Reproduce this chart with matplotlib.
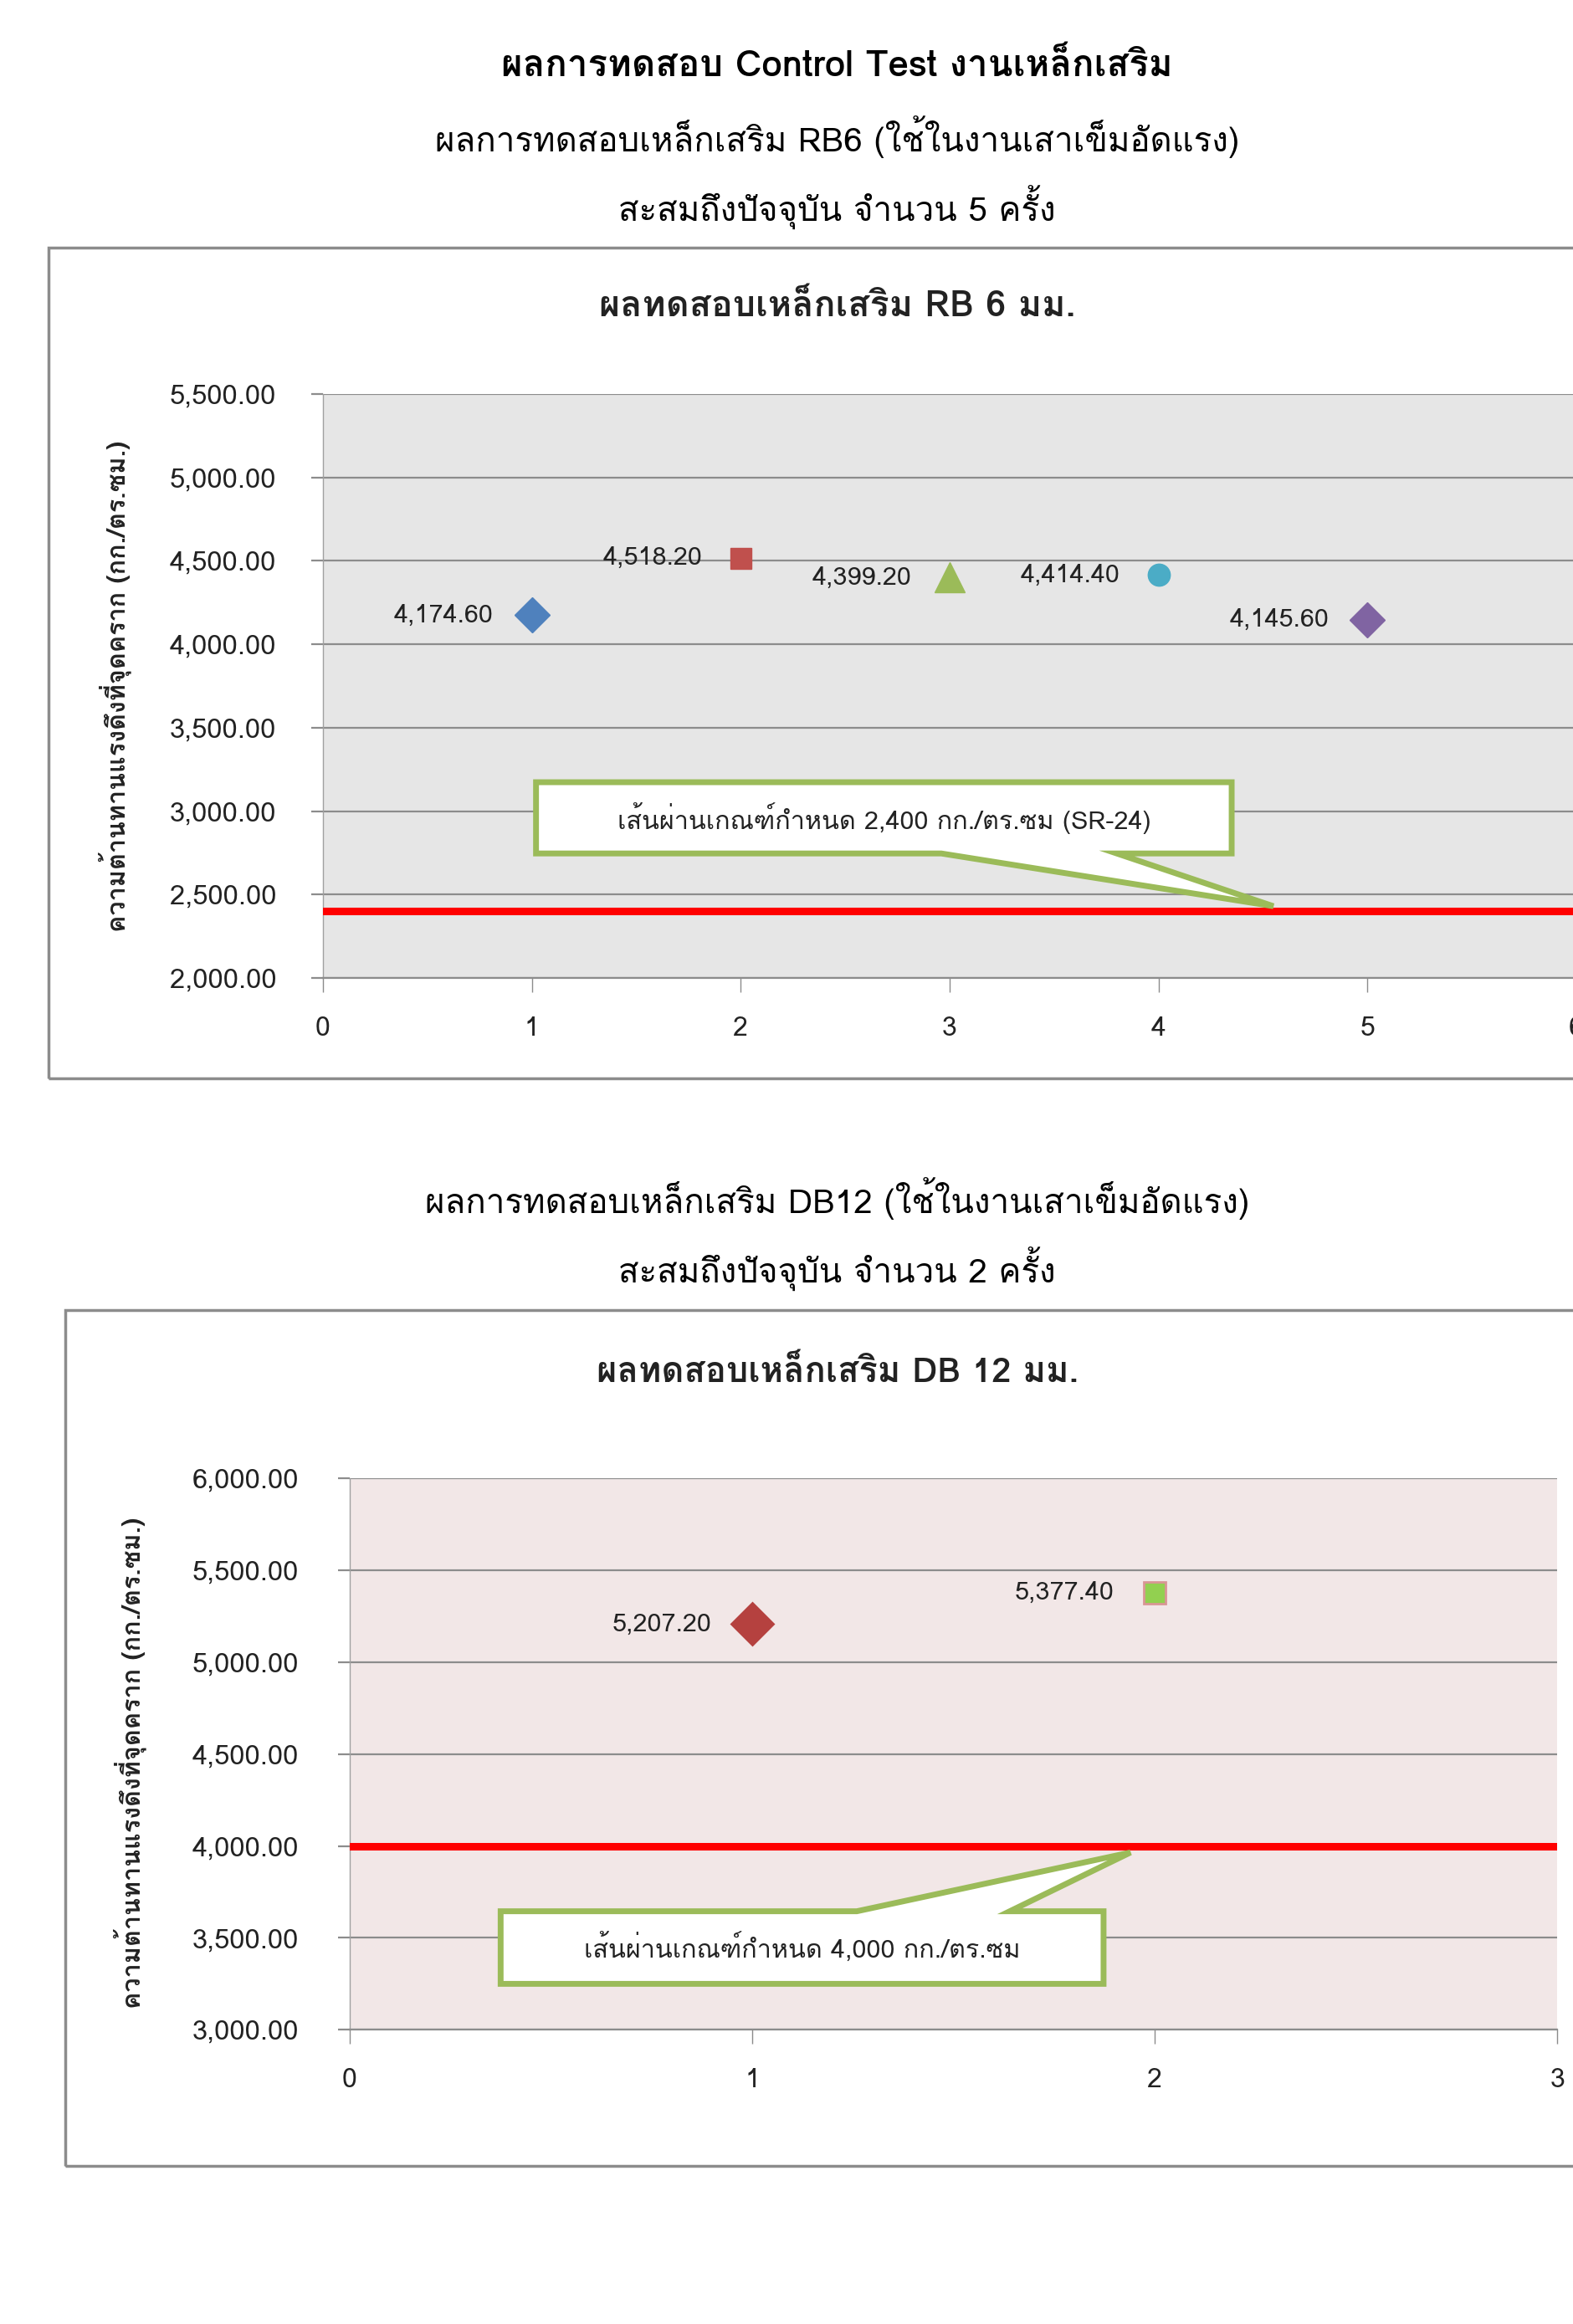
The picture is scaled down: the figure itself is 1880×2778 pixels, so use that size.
import matplotlib
matplotlib.use("Agg")
import matplotlib.pyplot as plt
from matplotlib import font_manager
from matplotlib.ft2font import FT2Font
from matplotlib.patches import Polygon, Rectangle
from matplotlib.ticker import FuncFormatter

# find a font that has Thai glyphs
thai_font = None
for f in font_manager.fontManager.ttflist:
    try:
        if 0x0E01 in FT2Font(f.fname).get_charmap():
            thai_font = f.name
            break
    except Exception:
        pass
families = [thai_font, "DejaVu Sans"] if thai_font else ["DejaVu Sans"]
plt.rcParams["font.family"] = families

# data chart 1 (RB6)
rb_x = [1, 2, 3, 4, 5]
rb_y = [4174.60, 4518.20, 4399.20, 4414.40, 4145.60]
rb_markers = ["D", "s", "^", "o", "D"]
rb_colors = ["#4F81BD", "#C0504D", "#9BBB59", "#4BACC6", "#8064A2"]
rb_limit = 2400
rb_yticks = [2000, 2500, 3000, 3500, 4000, 4500, 5000, 5500]
rb_xticks = [0, 1, 2, 3, 4, 5, 6]

# data chart 2 (DB12)
db_x = [1, 2]
db_y = [5207.20, 5377.40]
db_markers = ["D", "s"]
db_colors = ["#B5413F", "#92D050"]
db_limit = 4000
db_yticks = [3000, 3500, 4000, 4500, 5000, 5500, 6000]
db_xticks = [0, 1, 2, 3]

title_main = "ผลการทดสอบ Control Test งานเหล็กเสริม"
sub_rb = ["ผลการทดสอบเหล็กเสริม RB6 (ใช้ในงานเสาเข็มอัดแรง)", "สะสมถึงปัจจุบัน จำนวน 5 ครั้ง"]
sub_db = ["ผลการทดสอบเหล็กเสริม DB12 (ใช้ในงานเสาเข็มอัดแรง)", "สะสมถึงปัจจุบัน จำนวน 2 ครั้ง"]
ylab = "ความต้านทานแรงดึงที่จุดคราก (กก./ตร.ซม.)"
rb_title = "ผลทดสอบเหล็กเสริม RB 6 มม."
db_title = "ผลทดสอบเหล็กเสริม DB 12 มม."
rb_note = "เส้นผ่านเกณฑ์กำหนด 2,400 กก./ตร.ซม (SR-24)"
db_note = "เส้นผ่านเกณฑ์กำหนด 4,000 กก./ตร.ซม"

fig = plt.figure(figsize=(18.81, 27.78), dpi=100)
cx = 0.532

fig.text(cx, 0.9719, title_main, ha="center", va="center", fontsize=31.5, fontweight="bold")
fig.text(cx, 0.9413, sub_rb[0], ha="center", va="center", fontsize=29)
fig.text(cx, 0.9107, sub_rb[1], ha="center", va="center", fontsize=29)
fig.text(cx, 0.4843, sub_db[0], ha="center", va="center", fontsize=29)
fig.text(cx, 0.4537, sub_db[1], ha="center", va="center", fontsize=29)

# chart frames
fig.patches.append(Rectangle((0.031, 0.536), 1.0, 0.3575, transform=fig.transFigure,
                             fill=False, edgecolor="#8C8C8C", linewidth=2.5))
fig.patches.append(Rectangle((0.0414, 0.068), 1.0, 0.3684, transform=fig.transFigure,
                             fill=False, edgecolor="#8C8C8C", linewidth=2.5))
fig.text(cx, 0.868, rb_title, ha="center", va="center", fontsize=31, fontweight="bold", color="#222222")
fig.text(cx, 0.4096, db_title, ha="center", va="center", fontsize=30, fontweight="bold", color="#222222")
fig.text(0.0735, 0.7048, ylab, rotation=90, ha="center", va="center", fontsize=22, fontweight="bold", color="#222222")
fig.text(0.083, 0.2414, ylab, rotation=90, ha="center", va="center", fontsize=22, fontweight="bold", color="#222222")

fmt = FuncFormatter(lambda v, p: "{:,.2f}".format(v))


def setup(ax, bg, xticks, yticks, ypad):
    ax.set_facecolor(bg)
    ax.set_xlim(xticks[0], xticks[-1])
    ax.set_ylim(yticks[0], yticks[-1])
    ax.set_xticks(xticks)
    ax.set_yticks(yticks)
    ax.yaxis.set_major_formatter(fmt)
    ax.grid(axis="y", color="#8C8C8C", linewidth=1.6)
    ax.set_axisbelow(True)
    for s in ["top", "right"]:
        ax.spines[s].set_visible(False)
    ax.spines["left"].set_color("#A0A0A0")
    ax.spines["left"].set_linewidth(1)
    ax.spines["bottom"].set_color("#8C8C8C")
    ax.spines["bottom"].set_linewidth(1.6)
    ax.tick_params(axis="y", length=10, width=1.6, color="#8C8C8C", labelsize=23.5, pad=ypad, labelcolor="#222222")
    ax.tick_params(axis="x", length=12, width=1, color="#8C8C8C", labelsize=23, pad=21, labelcolor="#222222")


def callout(ax, x0, x1, y0, y1, b1, b2, tip, top, text):
    if top:
        pts = [(x0, y0), (x0, y1), (b1, y1), tip, (b2, y1), (x1, y1), (x1, y0)]
    else:
        pts = [(x0, y1), (x1, y1), (x1, y0), (b2, y0), tip, (b1, y0), (x0, y0)]
    ax.add_patch(Polygon(pts, closed=True, facecolor="white", edgecolor="#9BBB59",
                         linewidth=5, joinstyle="miter", zorder=4))
    ax.text((x0 + x1) / 2, (y0 + y1) / 2, text, ha="center", va="center", fontsize=22,
            color="#222222", zorder=5)


# chart 1
ax1 = fig.add_axes([0.2052, 0.5792, 0.7964, 0.2513])
setup(ax1, "#E6E6E6", rb_xticks, rb_yticks, 30)
ax1.axhline(rb_limit, color="#FF0000", linewidth=6.5, zorder=3)
sizes1 = [21, 18, 26, 19, 21]
for x, y, m, c, s in zip(rb_x, rb_y, rb_markers, rb_colors, sizes1):
    ax1.plot(x, y, marker=m, color=c, markersize=s, linestyle="none", zorder=6)
    ax1.annotate("{:,.2f}".format(y), (x, y), xytext=(-33, 0), textcoords="offset points",
                 ha="right", va="center", fontsize=22, color="#222222")
callout(ax1, 1.02, 4.35, 2746, 3173, 2.96, 3.80, (4.55, 2430), False, rb_note)

# chart 2
ax2 = fig.add_axes([0.2222, 0.1266, 0.7672, 0.2372])
setup(ax2, "#F2E7E7", db_xticks, db_yticks, 34)
ax2.axhline(db_limit, color="#FF0000", linewidth=6.5, zorder=3)
sizes2 = [25, 19]
for x, y, m, c, s in zip(db_x, db_y, db_markers, db_colors, sizes2):
    ax2.plot(x, y, marker=m, color=c, markersize=s, linestyle="none", zorder=6,
             markeredgecolor="#D99694" if m == "s" else c, markeredgewidth=2)
    ax2.annotate("{:,.2f}".format(y), (x, y), xytext=(-35, 0), textcoords="offset points",
                 ha="right", va="center", fontsize=22, color="#222222")
callout(ax2, 0.375, 1.873, 3250, 3645, 1.26, 1.64, (1.94, 3965), True, db_note)

fig.savefig("out.png", dpi=100)
